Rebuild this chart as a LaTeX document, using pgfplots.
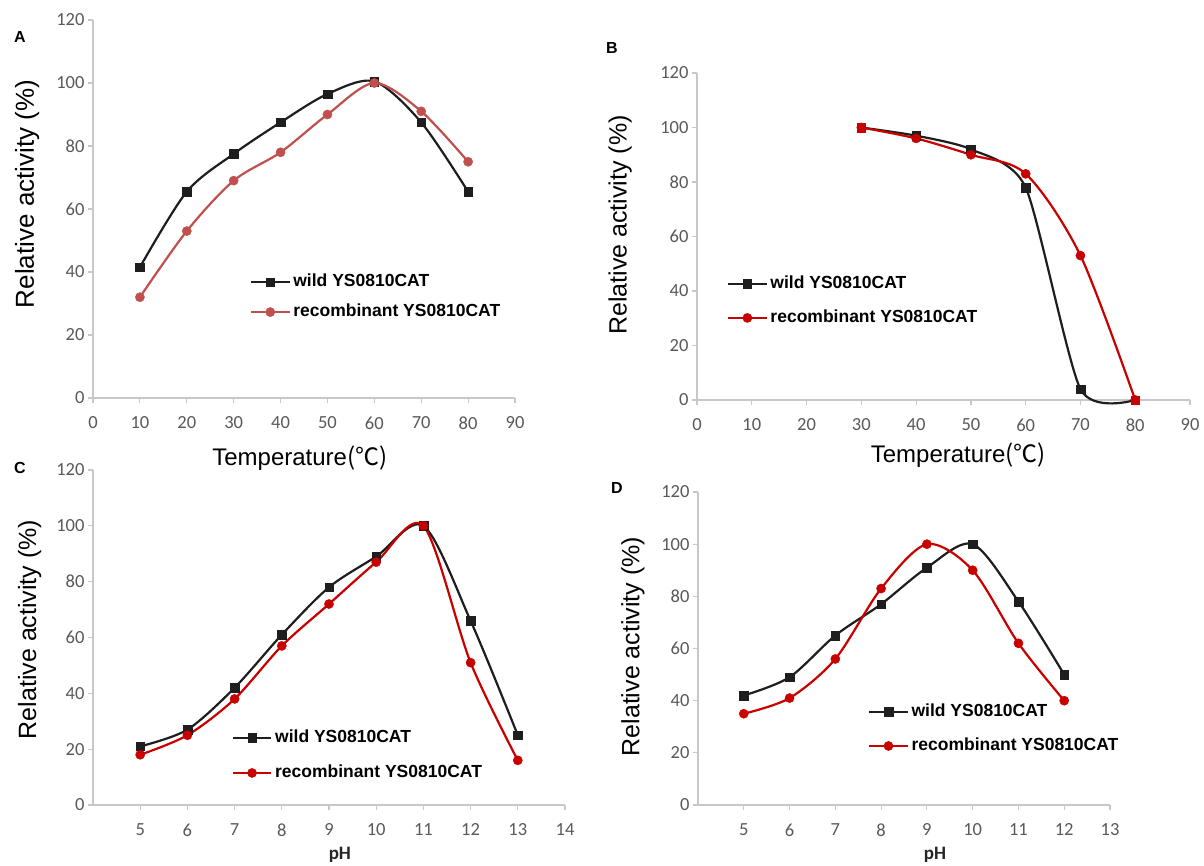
\documentclass[border=0pt]{standalone}
\usepackage{fontspec}
\setmainfont{Liberation Sans}
\newfontfamily\carlito{Carlito}
\newfontfamily\cjk{Noto Sans CJK SC}
\usepackage{pgfplots}
\pgfplotsset{compat=1.18}
\definecolor{axgray}{RGB}{200,200,200}
\definecolor{tickgray}{RGB}{89,89,89}
\definecolor{redA}{RGB}{192,80,77}
\definecolor{redB}{RGB}{200,0,0}
\definecolor{blk}{RGB}{30,30,30}
\tikzset{phlabel/.style={font=\carlito\bfseries\fontsize{19}{19}\selectfont, text=black!85}}
\pgfplotsset{
  panel/.style={
    scale only axis, anchor=south west,
    axis lines=left, axis line style={-, axgray, line width=1.2pt},
    tick align=outside, major tick length=5pt,
    tick style={axgray, line width=1.2pt},
    ticklabel style={font=\carlito\fontsize{18.5}{18.5}\selectfont, text=tickgray},
    xticklabel style={yshift=-10pt},
    /pgf/number format/assume math mode=true,
    ymin=0, ymax=120, ytick={0,20,...,120},
    clip=false,
    legend cell align=left,
    legend style={draw=none, fill=none, inner sep=0pt,
      font=\bfseries\fontsize{17.5}{17.5}\selectfont,
      nodes={inner sep=3pt, text height=12pt, text depth=3pt},
      row sep=9pt},
    legend image code/.code={\draw[mark repeat=2,mark phase=2,##1] plot coordinates {(0pt,0pt) (19pt,0pt) (38pt,0pt)};},
    ylabel style={font=\fontsize{25}{25}\selectfont, text=black, rotate=0, anchor=center},
    xlabel style={font=\fontsize{24}{24}\selectfont, text=black},
  },
  wild/.style={blk, line width=2.2pt, smooth, mark=square*, mark size=4.3pt, mark options={solid, line width=0.4pt}},
  rec/.style={#1, line width=2.2pt, smooth, mark=*, mark size=4.6pt, mark options={solid, line width=0.4pt, fill=#1}},
}
\begin{document}
\begin{tikzpicture}
\useasboundingbox (0pt,0pt) rectangle (1204pt,-865pt);
\fill[white] (0pt,0pt) rectangle (1204pt,-865pt);

% Panel A
\begin{axis}[panel, at={(93pt,-398pt)}, width=422pt, height=378pt,
  xmin=0, xmax=90, xtick={0,10,...,90},
  ylabel={Relative activity (\%)},
  ylabel style={at={(axis description cs:-0.156,0.54)}, font=\fontsize{26}{26}\selectfont},
  xlabel={Temperature{\cjk (℃)}},
  xlabel style={at={(axis description cs:0.49,-0.159)}, anchor=center},
  legend style={at={(0.372,0.267)}, anchor=west}]
\addplot[wild] coordinates {(10,41.5) (20,65.5) (30,77.5) (40,87.5) (50,96.5) (60,100.5) (70,87.5) (80,65.5)};
\addlegendentry{wild YS0810CAT}
\addplot[rec=redA] coordinates {(10,32) (20,53) (30,69) (40,78) (50,90) (60,100) (70,91) (80,75)};
\addlegendentry{recombinant YS0810CAT}
\end{axis}

% Panel B
\begin{axis}[panel, at={(697pt,-400pt)}, width=493pt, height=327pt,
  xmin=0, xmax=90, xtick={0,10,...,90},
  ylabel={Relative activity (\%)},
  ylabel style={at={(axis description cs:-0.156,0.535)}},
  xlabel={Temperature{\cjk (℃)}},
  xlabel style={at={(axis description cs:0.53,-0.168)}, anchor=center},
  legend style={at={(0.061,0.303)}, anchor=west, row sep=13pt}]
\addplot[wild, tension=0.4] coordinates {(30,100) (40,97) (50,92) (60,78) (70,4) (80,0)};
\addlegendentry{wild YS0810CAT}
\addplot[rec=redB] coordinates {(30,100) (40,96) (50,90) (60,83) (70,53) (80,0)};
\addlegendentry{recombinant YS0810CAT}
\addplot[only marks, mark=square*, mark size=4.3pt, redB, forget plot] coordinates {(30,100) (80,0)};
\end{axis}

% Panel C
\begin{axis}[panel, at={(93pt,-805pt)}, width=472pt, height=335pt,
  xmin=4, xmax=14, xtick={5,...,14},
  ylabel={Relative activity (\%)},
  ylabel style={at={(axis description cs:-0.134,0.524)}},
  xlabel={pH},
  xlabel style={at={(axis description cs:0.523,-0.149)}, anchor=center, phlabel},
  legend style={at={(0.294,0.148)}, anchor=west, row sep=14pt}]
\addplot[wild] coordinates {(5,21) (6,27) (7,42) (8,61) (9,78) (10,89) (11,100) (12,66) (13,25)};
\addlegendentry{wild YS0810CAT}
\addplot[rec=redB] coordinates {(5,18) (6,25) (7,38) (8,57) (9,72) (10,87) (11,100) (12,51) (13,16)};
\addlegendentry{recombinant YS0810CAT}
\end{axis}

% Panel D
\begin{axis}[panel, at={(698pt,-805pt)}, width=412pt, height=313pt,
  xmin=4, xmax=13, xtick={5,...,13},
  ylabel={Relative activity (\%)},
  ylabel style={at={(axis description cs:-0.158,0.506)}},
  xlabel={pH},
  xlabel style={at={(axis description cs:0.575,-0.16)}, anchor=center, phlabel},
  legend style={at={(0.413,0.243)}, anchor=west, row sep=13pt}]
\addplot[wild] coordinates {(5,42) (6,49) (7,65) (8,77) (9,91) (10,100) (11,78) (12,50)};
\addlegendentry{wild YS0810CAT}
\addplot[rec=redB] coordinates {(5,35) (6,41) (7,56) (8,83) (9,100) (10,90) (11,62) (12,40)};
\addlegendentry{recombinant YS0810CAT}
\end{axis}

\node[font=\bfseries\fontsize{16}{16}\selectfont] at (20pt,-37pt) {A};
\node[font=\bfseries\fontsize{16}{16}\selectfont] at (612pt,-48pt) {B};
\node[font=\bfseries\fontsize{16}{16}\selectfont] at (20pt,-468pt) {C};
\node[font=\bfseries\fontsize{16}{16}\selectfont] at (617pt,-488pt) {D};
\end{tikzpicture}
\end{document}
